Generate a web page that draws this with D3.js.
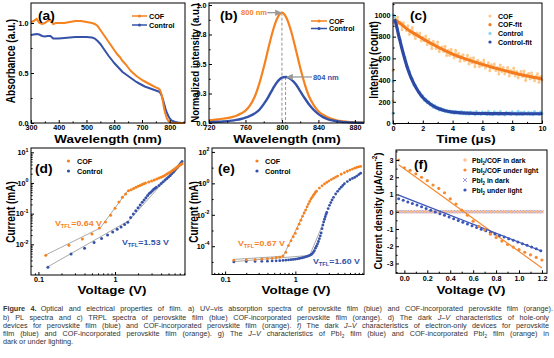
<!DOCTYPE html>
<html><head><meta charset="utf-8">
<script src="https://cdn.jsdelivr.net/npm/d3@7/dist/d3.min.js"></script>
<style>html,body{margin:0;padding:0;background:#fff;}svg{display:block;}</style>
</head><body>
<svg id="fig" width="554" height="358" xmlns="http://www.w3.org/2000/svg"></svg>
<script>
// ---------------- DATA ----------------
// (a) UV-vis absorption
const aWave = [300,310,320,330,340,350,360,370,380,390,400,420,440,460,480,500,520,530,540,550,560,570,580,590,600,610,620,630,640,650,660,670,680,690,700,710,720,730,740,750,760,765,770,775,780,785,790,795,800,805,810,820,830,840,850,855];
const aCof = [1.01,1.02,1.04,1.0,0.99,1.0,1.02,1.03,0.99,1.0,1.0,1.0,1.01,1.02,1.02,1.01,1.0,0.99,0.97,0.93,0.89,0.85,0.81,0.77,0.73,0.69,0.66,0.62,0.59,0.555,0.52,0.495,0.47,0.45,0.43,0.415,0.40,0.385,0.37,0.357,0.345,0.33,0.29,0.22,0.14,0.085,0.045,0.022,0.01,0.005,0.003,0.001,0,0,0,0];
const aCtrl = [0.88,0.885,0.89,0.885,0.87,0.865,0.87,0.87,0.845,0.845,0.845,0.85,0.855,0.86,0.86,0.86,0.855,0.845,0.82,0.79,0.75,0.71,0.67,0.635,0.60,0.57,0.54,0.51,0.49,0.47,0.45,0.43,0.41,0.395,0.38,0.365,0.355,0.345,0.335,0.325,0.315,0.305,0.28,0.24,0.19,0.14,0.10,0.07,0.045,0.03,0.02,0.01,0.004,0.002,0.001,0.001];
const aXTicks = [300,400,500,600,700,800];
const aYTicks = [0,0.5,1.0];
const aYLabels = ["0.0","0.5","1.0"];

// (b) PL spectra
const bWave = [720,725,730,735,740,745,750,755,760,765,770,775,780,785,790,795,800,805,810,815,820,825,830,835,840,845,850,855,860,865,870,875,880,885,890];
const bCof = [0.024,0.027,0.031,0.036,0.042,0.05,0.062,0.08,0.105,0.15,0.22,0.33,0.47,0.63,0.78,0.89,0.935,0.89,0.78,0.63,0.47,0.33,0.22,0.15,0.10,0.07,0.048,0.033,0.023,0.016,0.011,0.008,0.006,0.004,0.003];
const bCtrlWave = [720,725,730,735,740,745,750,755,760,765,770,775,780,785,790,795,800,804,805,810,815,820,825,830,835,840,845,850,855,860,865,870,875,880,885,890];
const bCtrl = [0.006,0.008,0.01,0.013,0.016,0.02,0.026,0.034,0.045,0.06,0.08,0.11,0.16,0.22,0.29,0.35,0.385,0.39,0.39,0.37,0.33,0.27,0.21,0.155,0.11,0.075,0.05,0.033,0.022,0.015,0.01,0.007,0.005,0.003,0.002,0.001];
const bPeaks = [800,804];
const bPeakVals = [0.935,0.39];
const bXTicks = [720,760,800,840,880];
const bYTicks = [0,0.25,0.5,0.75,1.0];
const bYLabels = ["0.0","0.3","0.5","0.8","1.0"];

// (c) TRPL
const cTime = [0.1,0.2,0.3,0.4,0.5,0.6,0.7,0.8,0.9,1.0,1.1,1.2,1.3,1.4,1.5,1.6,1.7,1.8,1.9,2.0,2.1,2.2,2.3,2.4,2.5,2.6,2.7,2.8,2.9,3.0,3.1,3.2,3.3,3.4,3.5,3.6,3.7,3.8,3.9,4.0,4.1,4.2,4.3,4.4,4.5,4.6,4.7,4.8,4.9,5.0,5.1,5.2,5.3,5.4,5.5,5.6,5.7,5.8,5.9,6.0,6.1,6.2,6.3,6.4,6.5,6.6,6.7,6.8,6.9,7.0,7.1,7.2,7.3,7.4,7.5,7.6,7.7,7.8,7.9,8.0,8.1,8.2,8.3,8.4,8.5,8.6,8.7,8.8,8.9,9.0,9.1,9.2,9.3,9.4,9.5,9.6,9.7,9.8,9.9,10.0];
const cCofRaw = [985,920,980,920,934,863,927,892,856,900, 821,858,884,816,782,834,805,832,763,795, 762,805,727,775,737,690,757,730,692,750, 663,697,705,664,712,626,674,628,681,640, 605,675,615,644,574,619,634,578,588,628, 549,600,560,606,522,567,583,524,564,535, 586,512,533,559,485,541,512,548,489,515, 457,538,480,516,458,489,516,437,489,460, 512,439,480,422,454,481,433,484,396,448, 460,412,465,422,394,436,458,381,433,400];
const cCtrlRaw = [985,940,870,790,770,700,650,610,530,515, 480,420,410,355,350,320,290,285,250,255, 215,225,190,200,170,180,150,165,140,150, 125,140,120,130,110,122,105,118,100,112, 95,112,98,108,92,110,90,104,88,102, 85,105,92,100,80,110,88,98,84,106, 90,102,82,112,86,96,80,108,92,99, 84,110,88,95,78,104,92,100,83,108, 90,97,80,112,86,101,82,106,93,88, 104,85,98,80,110,90,96,84,106,92];
const cCofEarlyT = [0,0,0.04];
const cCofEarly = [210,490,930];
const cCtrlEarlyT = [0,0,0.04];
const cCtrlEarly = [95,390,1000];
const cCofFitT = [0.1,0.2,0.5,1,1.5,2,3,4,5,6,7,8,9,10];
const cCofFit = [960,950,920,865,822,780,705,640,588,545,505,470,438,410];
const cCtrlFitT = [0.1,0.2,0.3,0.4,0.5,0.6,0.8,1.0,1.25,1.5,1.75,2,2.5,3,3.5,4,5,6,7,8,9,10];
const cCtrlFit = [960,920,860,800,745,690,590,500,410,340,285,240,180,140,118,105,95,92,91,90,90,90];
const cXTicks = [0,2,4,6,8,10];
const cYTicks = [0,200,400,600,800,1000];

// (d) hole-only J-V
const dCofV = [0.125,0.25,0.375,0.5,0.625,0.75,0.875,1.0,1.125,1.25,1.375,1.5,1.625,1.75,1.875,2.0,2.125,2.25,2.375,2.5,2.75,3.0,3.25,3.5,3.75,4.0,4.25,4.5,4.75,5.0,5.25,5.5,5.75,6.0,6.25,6.5,6.75,7.0,7.25,7.5];
const dCofI = [0.0044,0.0094,0.0148,0.0216,0.034,0.053,0.088,0.15,0.24,0.34,0.44,0.56,0.6,0.66,0.72,0.78,0.83,0.89,0.94,0.99,1.08,1.17,1.26,1.35,1.45,1.55,1.67,1.8,1.95,2.1,2.25,2.45,2.65,2.85,3.05,3.3,3.55,3.8,4.0,4.2];
const dCtrlV = [0.133,0.267,0.4,0.533,0.667,0.8,0.933,1.067,1.2,1.333,1.467,1.6,1.733,1.867,2.0,2.133,2.267,2.4,2.533,2.667,2.8,2.933,3.067,3.2,3.333,3.467,3.75,4.0,4.25,4.5,4.75,5.0,5.25,5.5,5.75,6.0,6.25,6.5,6.75,7.0,7.25,7.5];
const dCtrlI = [0.0018,0.0048,0.0075,0.0114,0.0155,0.02,0.025,0.031,0.037,0.044,0.052,0.075,0.097,0.125,0.155,0.19,0.235,0.28,0.33,0.39,0.45,0.5,0.56,0.62,0.67,0.72,0.83,0.96,1.09,1.24,1.4,1.56,1.75,1.98,2.25,2.55,2.88,3.2,3.6,4.0,4.5,5.0];
const dCofFitV = [0.12,0.64,1.5];
const dCofFitI = [0.0043,0.034,0.6];
const dCtrlFitV = [0.13,1.53,7.5];
const dCtrlFitI = [0.0018,0.06,5.1];
const dXTicks = [0.1,1];
const dXLabels = ["0.1","1"];
const dYTicks = [0.01,0.1,1,10];
const dYExp = ["-2","-1","0","1"];

// (e) electron-only J-V
const eCofV = [0.133,0.2,0.267,0.333,0.4,0.467,0.533,0.6,0.667,0.733,0.8,0.867,0.933,1.0,1.067,1.133,1.2,1.267,1.333,1.4,1.467,1.533,1.6,1.667,1.733,1.8,1.867,1.933,2.0,2.2,2.4,2.6,2.8,3.0,3.25,3.5,3.75,4.0,4.5,5.0,5.5,6.0,6.5,7.0,7.5,8.0,8.5];
const eCofI = [1.3e-5,1.35e-5,1.4e-5,1.5e-5,1.6e-5,1.7e-5,1.85e-5,2.0e-5,2.4e-5,4.0e-5,1.1e-4,2.2e-4,4.0e-4,6.5e-4,1.3e-3,2.5e-3,4.5e-3,8e-3,1.3e-2,2.0e-2,3.2e-2,4.8e-2,7e-2,0.1,0.13,0.17,0.21,0.27,0.32,0.5,0.7,0.92,1.15,1.4,1.75,2.1,2.5,2.9,3.8,4.8,5.9,7.0,8.1,9.2,10.3,11.2,12];
const eCtrlV = [0.133,0.2,0.267,0.333,0.4,0.467,0.533,0.6,0.667,0.733,0.8,0.867,0.933,1.0,1.067,1.133,1.2,1.267,1.333,1.4,1.467,1.533,1.6,1.667,1.733,1.8,1.867,1.933,2.0,2.067,2.133,2.2,2.267,2.333,2.4,2.467,2.533,2.6,2.667,2.733,2.8,2.933,3.067,3.2,3.333,3.5,3.75,4.0,4.25,4.5,4.75,5.0,5.5,6.0,6.5,7.0,7.5,8.0,8.5];
const eCtrlI = [1.0e-5,1.05e-5,1.08e-5,1.1e-5,1.12e-5,1.15e-5,1.18e-5,1.2e-5,1.25e-5,1.3e-5,1.35e-5,1.4e-5,1.45e-5,1.5e-5,1.58e-5,1.65e-5,1.75e-5,1.85e-5,1.95e-5,2.1e-5,2.25e-5,2.4e-5,2.6e-5,2.9e-5,3.3e-5,4e-5,5.2e-5,7.5e-5,1.0e-4,1.4e-4,2.0e-4,3.0e-4,4.6e-4,7e-4,1.3e-3,2.2e-3,3.5e-3,5.2e-3,7.5e-3,1.05e-2,1.4e-2,2.5e-2,4.0e-2,6e-2,8.8e-2,0.13,0.21,0.31,0.43,0.57,0.74,0.95,1.3,1.7,2.05,2.4,2.9,3.6,4.4];
const eCofFitV = [0.133,0.67,1.6];
const eCofFitI = [1.45e-5,2.3e-5,7e-2];
const eCtrlFitV = [0.133,1.6,2.5];
const eCtrlFitI = [1.05e-5,2.6e-5,3e-3];
const eXTicks = [0.1,1];
const eXLabels = ["0.1","1"];
const eYTicks = [1e-4,1e-2,1,100];
const eYExp = ["-4","-2","0","2"];

// (f) PbI2 J-V
const fV = [-0.05,0,0.05,0.1,0.15,0.2,0.25,0.3,0.35,0.4,0.45,0.5,0.55,0.6,0.65,0.7,0.75,0.8,0.85,0.9,0.95,1.0,1.05,1.1,1.15,1.2];
const fVD = [-0.05,-0.025,0,0.025,0.05,0.075,0.1,0.125,0.15,0.175,0.2,0.225,0.25,0.275,0.3,0.325,0.35,0.375,0.4,0.425,0.45,0.475,0.5,0.525,0.55,0.575,0.6,0.625,0.65,0.675,0.7,0.725,0.75,0.775,0.8,0.825,0.85,0.875,0.9,0.925,0.95,0.975,1.0,1.025,1.05,1.075,1.1,1.125,1.15,1.175,1.2];
const fCofDark = [0,0,0,0,0,0,0,0,0,0,0,0,0,0,0,0,0,0,0,0,0,0,0,0,0,0,0,0,0,0,0,0,0,0,0,0,0,0,0,0,0,0,0,0,0,0,0,0,0,0,0];
const fPbDark = [0,0,0,0,0,0,0,0,0,0,0,0,0,0,0,0,0,0,0,0,0,0,0,0,0,0,0,0,0,0,0,0,0,0,0,0,0,0,0,0,0,0,0,0,0,0,0,0,0,0,0];
const fCofLight = [3.0,2.55,2.4,2.2,2.0,1.8,1.55,1.35,1.1,0.75,0.45,0.1,-0.2,-0.55,-0.85,-1.05,-1.3,-1.5,-1.7,-1.9,-2.05,-2.2,-2.35,-2.5,-2.65,-2.8];
const fVB = [-0.05,-0.01,0.03,0.07,0.11,0.15,0.19,0.23,0.27,0.31,0.35,0.39,0.43,0.47,0.51,0.55,0.59,0.63,0.67,0.71,0.75,0.79,0.83,0.87,0.91,0.95,0.99,1.03,1.07,1.11,1.15,1.19];
const fPbLight = [0.75,0.66,0.57,0.48,0.39,0.29,0.19,0.09,-0.01,-0.11,-0.21,-0.31,-0.41,-0.51,-0.61,-0.71,-0.81,-0.91,-1.01,-1.1,-1.2,-1.29,-1.38,-1.47,-1.57,-1.66,-1.76,-1.85,-1.95,-2.05,-2.15,-2.26];
const fCofFitV = [-0.05,1.2];
const fCofFit = [2.72,-3.26];
const fPbFitV = [-0.05,1.2];
const fPbFit = [0.96,-2.29];
const fXTicks = [0,0.2,0.4,0.6,0.8,1.0,1.2];
const fXLabels = ["0.0","0.2","0.4","0.6","0.8","1.0","1.2"];
const fYTicks = [-3,-2,-1,0,1,2,3];

// ---------------- STYLE / HELPERS ----------------
const FONT = "'Liberation Sans', Arial, Helvetica, sans-serif";
const ORANGE = "#F5821F", BLUE = "#3552A8";
const TICKFS = 7.2;
const svg = d3.select("#fig");
const defs = svg.append("defs");
defs.append("marker").attr("id","arr").attr("viewBox","0 0 10 10").attr("refX",9).attr("refY",5)
  .attr("markerWidth",5).attr("markerHeight",5).attr("orient","auto")
  .append("path").attr("d","M0,0 L10,5 L0,10 z").attr("fill","#999");

function rich(t, segs, fs) {
  let shift = 0;
  segs.forEach(s => {
    const sp = t.append("tspan").text(s.t);
    const target = s.sub ? fs*0.3 : (s.sup ? -fs*0.4 : 0);
    if (target !== shift) { sp.attr("dy", target - shift); shift = target; }
    if (s.sub || s.sup) sp.attr("font-size", fs*0.65);
    if (s.b) sp.attr("font-weight","bold");
    if (s.i) sp.attr("font-style","italic");
    if (s.dx) sp.attr("dx", s.dx);
  });
}
function T(parent, x, y, segs, o = {}) {
  const fs = o.fs || 8;
  let tr = `translate(${x},${y})`;
  if (o.sx && o.sx !== 1) tr += ` scale(${o.sx},1)`;
  if (o.rot) tr += ` rotate(${o.rot})`;
  const t = parent.append("text").attr("transform", tr)
    .attr("font-family", o.family || FONT).attr("font-size", fs)
    .attr("font-weight", o.fw || "bold").attr("fill", o.fill || "#000")
    .attr("text-anchor", o.anchor || "start");
  if (typeof segs === "string") segs = [{t: segs}];
  rich(t, segs, fs);
  return t;
}
function zip(X, Y) { return X.map((v,i) => [v, Y[i]]); }

function axes(B, x, y, c) {
  const g = svg.append("g");
  const xa = g.append("g").attr("transform", `translate(0,${B.b})`)
    .call(d3.axisBottom(x).tickValues(c.xt).tickFormat((d,i) => c.xl ? c.xl[i] : String(d)).tickSize(-3).tickPadding(2.2));
  xa.select(".domain").remove();
  xa.attr("font-size", TICKFS).attr("font-family", FONT).attr("font-weight", "bold");
  if (c.xm) { const m = g.append("g").attr("transform", `translate(0,${B.b})`).call(d3.axisBottom(x).tickValues(c.xm).tickFormat("").tickSize(-1.6)); m.select(".domain").remove(); }
  const ya = g.append("g").attr("transform", `translate(${B.l},0)`)
    .call(d3.axisLeft(y).tickValues(c.yt).tickFormat((d,i) => c.yl ? c.yl[i] : String(d)).tickSize(-3).tickPadding(2.5));
  ya.select(".domain").remove();
  ya.attr("font-size", TICKFS).attr("font-family", FONT).attr("font-weight", "bold");
  if (c.yexp) {
    ya.selectAll(".tick text").each(function(d, i) {
      const t = d3.select(this); t.text(null);
      t.append("tspan").text("10");
      t.append("tspan").attr("dy", -3.6).attr("font-size", 5.3).text(c.yexp[i]);
    });
  }
  if (c.ym) { const m = g.append("g").attr("transform", `translate(${B.l},0)`).call(d3.axisLeft(y).tickValues(c.ym).tickFormat("").tickSize(-1.6)); m.select(".domain").remove(); }
  g.append("rect").attr("x", B.l).attr("y", B.t).attr("width", B.r - B.l).attr("height", B.b - B.t)
    .attr("fill", "none").attr("stroke", "#000").attr("stroke-width", 1);
  return g;
}
function logMinor(lo, hi, from, to) {
  const out = [];
  for (let e = from; e <= to; e++) for (let k = 2; k <= 9; k++) { const v = k * Math.pow(10, e); if (v > lo && v < hi) out.push(v); }
  return out;
}
const XT = {fs:11, sx:1.22, anchor:"middle"};
const TOPX = 142.5, BOTX = 294;

// ---------------- PANEL (a) ----------------
{
  const B = {l:31, r:185, t:3, b:123};
  const x = d3.scaleLinear().domain([300,855]).range([B.l,B.r]);
  const y = d3.scaleLinear().domain([0,1.2]).range([B.b,B.t]);
  const g = svg.append("g");
  const ln = d3.line().x(d => x(d[0])).y(d => y(d[1]));
  g.append("path").attr("d", ln(zip(aWave,aCtrl))).attr("fill","none").attr("stroke",BLUE).attr("stroke-width",2);
  g.append("path").attr("d", ln(zip(aWave,aCof))).attr("fill","none").attr("stroke",ORANGE).attr("stroke-width",2);
  axes(B, x, y, {xt:aXTicks, yt:aYTicks, yl:aYLabels, xm:[350,450,550,650,750,850], ym:[0.25,0.75]});
  [["COF",ORANGE,16],["Control",BLUE,25]].forEach(([n,c,yy]) => {
    g.append("line").attr("x1",132).attr("x2",147).attr("y1",yy).attr("y2",yy).attr("stroke",c).attr("stroke-width",1.5);
    g.append("circle").attr("cx",139.5).attr("cy",yy).attr("r",1.6).attr("fill",c);
    T(g, 149, yy+2.6, n, {fs:7.2});
  });
  T(svg, 38, 20, "(a)", {fs:12, sx:1.15});
  T(svg, 108, TOPX, "Wavelength (nm)", XT);
  T(svg, 15, 61, "Absorbance (a.u.)", {fs:10, sx:1.2, rot:-90, anchor:"middle"});
}

// ---------------- PANEL (b) ----------------
{
  const B = {l:209, r:364, t:3, b:123};
  const x = d3.scaleLinear().domain([720,890]).range([B.l,B.r]);
  const y = d3.scaleLinear().domain([0,1.017]).range([B.b,B.t]);
  const g = svg.append("g");
  const ln = d3.line().x(d => x(d[0])).y(d => y(d[1])).curve(d3.curveMonotoneX);
  bPeaks.forEach((p,i) => g.append("line").attr("x1",x(p)).attr("x2",x(p)).attr("y1",y(bPeakVals[i])).attr("y2",y(0))
    .attr("stroke","#777").attr("stroke-width",0.8).attr("stroke-dasharray","3,2"));
  g.append("path").attr("d", ln(zip(bWave,bCof))).attr("fill","none").attr("stroke",ORANGE).attr("stroke-width",2.2);
  g.append("path").attr("d", ln(zip(bCtrlWave,bCtrl))).attr("fill","none").attr("stroke",BLUE).attr("stroke-width",2.4);
  axes(B, x, y, {xt:bXTicks, yt:bYTicks, yl:bYLabels, xm:[740,780,820,860], ym:[0.125,0.375,0.625,0.875]});
  g.append("line").attr("x1",x(784)).attr("x2",x(799)).attr("y1",y(bPeakVals[0])).attr("y2",y(bPeakVals[0])).attr("stroke","#999").attr("stroke-width",1.3).attr("marker-end","url(#arr)");
  g.append("line").attr("x1",x(833)).attr("x2",x(805.5)).attr("y1",y(bPeakVals[1])).attr("y2",y(bPeakVals[1])).attr("stroke","#999").attr("stroke-width",1.3).attr("marker-end","url(#arr)");
  T(g, x(783.5), y(bPeakVals[0])+2.6, "800 nm", {fs:7.5, fill:ORANGE, anchor:"end"});
  T(g, x(834), y(bPeakVals[1])+2.6, "804 nm", {fs:7.5, fill:BLUE});
  [["COF",ORANGE,21],["Control",BLUE,28.5]].forEach(([n,c,yy]) => {
    g.append("line").attr("x1",311).attr("x2",327).attr("y1",yy).attr("y2",yy).attr("stroke",c).attr("stroke-width",1.5);
    g.append("circle").attr("cx",319).attr("cy",yy).attr("r",1.6).attr("fill",c);
    T(g, 329, yy+2.6, n, {fs:7.2});
  });
  T(svg, 220, 20, "(b)", {fs:12, sx:1.15});
  T(svg, 287, TOPX, "Wavelength (nm)", XT);
  T(svg, 199, 63, "Normalized intensity (a.u.)", {fs:9.6, sx:1.2, rot:-90, anchor:"middle"});
}

// ---------------- PANEL (c) ----------------
{
  const B = {l:393, r:542, t:3, b:123.5};
  const x = d3.scaleLinear().domain([0,10]).range([B.l,B.r]);
  const y = d3.scaleLinear().domain([0,1110]).range([B.b,B.t]);
  const g = svg.append("g");
  const ln = d3.line().x(d => x(d[0])).y(d => y(d[1]));
  const lc = d3.line().x(d => x(d[0])).y(d => y(d[1])).curve(d3.curveMonotoneX);
  const LO = "#FDC98C", LB = "#8AD6F6";
  g.append("path").attr("d", ln(zip(cTime,cCofRaw))).attr("fill","none").attr("stroke",LO).attr("stroke-width",1.2);
  g.selectAll(null).data(zip(cTime,cCofRaw).concat(zip(cCofEarlyT,cCofEarly))).join("circle").attr("cx",d=>x(d[0])).attr("cy",d=>y(d[1])).attr("r",1.5).attr("fill",LO);
  g.append("path").attr("d", ln(zip(cTime,cCtrlRaw))).attr("fill","none").attr("stroke",LB).attr("stroke-width",1.2);
  g.selectAll(null).data(zip(cTime,cCtrlRaw).concat(zip(cCtrlEarlyT,cCtrlEarly))).join("circle").attr("cx",d=>x(d[0])).attr("cy",d=>y(d[1])).attr("r",1.5).attr("fill",LB);
  g.append("path").attr("d", lc(zip(cCofFitT,cCofFit))).attr("fill","none").attr("stroke","#F47A20").attr("stroke-width",3);
  g.append("path").attr("d", lc(zip(cCtrlFitT,cCtrlFit))).attr("fill","none").attr("stroke","#2E48A6").attr("stroke-width",3.2);
  axes(B, x, y, {xt:cXTicks, yt:cYTicks, xm:[1,3,5,7,9], ym:[100,300,500,700,900,1100]});
  [["COF",LO,16],["COF-fit","#F47A20",24.7],["Control",LB,33.4],["Control-fit","#2E48A6",42]].forEach(([n,c,yy]) => {
    g.append("circle").attr("cx",490).attr("cy",yy).attr("r",1.6).attr("fill",c);
    T(g, 498, yy+2.5, n, {fs:7});
  });
  T(svg, 410, 20, "(c)", {fs:12, sx:1.15});
  T(svg, 466, TOPX, "Time (μs)", XT);
  T(svg, 378, 60, "Intensity (count)", {fs:10, sx:1.2, rot:-90, anchor:"middle"});
}

// ---------------- PANEL (d) ----------------
{
  const B = {l:31, r:185, t:148, b:275};
  const x = d3.scaleLog().domain([0.08,8.2]).range([B.l,B.r]);
  const y = d3.scaleLog().domain([1e-3,13.8]).range([B.b,B.t]);
  const g = svg.append("g");
  const ln = d3.line().x(d => x(d[0])).y(d => y(d[1]));
  g.append("path").attr("d", ln(zip(dCofFitV,dCofFitI))).attr("fill","none").attr("stroke","#aaa").attr("stroke-width",1);
  g.append("path").attr("d", ln(zip(dCtrlFitV,dCtrlFitI))).attr("fill","none").attr("stroke","#aaa").attr("stroke-width",1);
  g.selectAll(null).data(zip(dCtrlV,dCtrlI)).join("circle").attr("cx",d=>x(d[0])).attr("cy",d=>y(d[1])).attr("r",1.5).attr("fill",BLUE);
  g.selectAll(null).data(zip(dCofV,dCofI)).join("circle").attr("cx",d=>x(d[0])).attr("cy",d=>y(d[1])).attr("r",1.5).attr("fill",ORANGE);
  axes(B, x, y, {xt:dXTicks, xl:dXLabels, yt:dYTicks, yexp:dYExp, xm:logMinor(0.08,8.2,-2,0), ym:logMinor(1e-3,13.8,-3,0)});
  [["COF",ORANGE,161],["Control",BLUE,171]].forEach(([n,c,yy]) => {
    g.append("circle").attr("cx",68.5).attr("cy",yy).attr("r",1.6).attr("fill",c);
    T(g, 77, yy+2.6, n, {fs:7.2});
  });
  T(g, 55, 226, [{t:"V"},{t:"TFL",sub:true},{t:"=0.64 V"}], {fs:8, sx:1.1, fill:ORANGE});
  T(g, 122, 245, [{t:"V"},{t:"TFL",sub:true},{t:"=1.53 V"}], {fs:8, sx:1.1, fill:BLUE});
  T(svg, 35, 173, "(d)", {fs:12, sx:1.15});
  T(svg, 112, BOTX, "Voltage (V)", XT);
  T(svg, 15, 212, "Current (mA)", {fs:10, sx:1.2, rot:-90, anchor:"middle"});
}

// ---------------- PANEL (e) ----------------
{
  const B = {l:212, r:364, t:148, b:274.5};
  const x = d3.scaleLog().domain([0.065,9.5]).range([B.l,B.r]);
  const y = d3.scaleLog().domain([Math.pow(10,-5.8),Math.pow(10,2.25)]).range([B.b,B.t]);
  const g = svg.append("g");
  const ln = d3.line().x(d => x(d[0])).y(d => y(d[1]));
  g.append("path").attr("d", ln(zip(eCofFitV,eCofFitI))).attr("fill","none").attr("stroke","#aaa").attr("stroke-width",1);
  g.append("path").attr("d", ln(zip(eCtrlFitV,eCtrlFitI))).attr("fill","none").attr("stroke","#aaa").attr("stroke-width",1);
  g.selectAll(null).data(zip(eCtrlV,eCtrlI)).join("circle").attr("cx",d=>x(d[0])).attr("cy",d=>y(d[1])).attr("r",1.4).attr("fill",BLUE);
  g.selectAll(null).data(zip(eCofV,eCofI)).join("circle").attr("cx",d=>x(d[0])).attr("cy",d=>y(d[1])).attr("r",1.4).attr("fill",ORANGE);
  axes(B, x, y, {xt:eXTicks, xl:eXLabels, yt:eYTicks, yexp:eYExp, xm:logMinor(0.065,9.5,-2,0), ym:[1e-5,1e-3,1e-1,10]});
  [["COF",ORANGE,161],["Control",BLUE,171]].forEach(([n,c,yy]) => {
    g.append("circle").attr("cx",257).attr("cy",yy).attr("r",1.6).attr("fill",c);
    T(g, 265, yy+2.6, n, {fs:7.2});
  });
  T(g, 238, 246, [{t:"V"},{t:"TFL",sub:true},{t:"=0.67 V"}], {fs:8, sx:1.1, fill:ORANGE});
  T(g, 313, 264, [{t:"V"},{t:"TFL",sub:true},{t:"=1.60 V"}], {fs:8, sx:1.1, fill:BLUE});
  T(svg, 218, 173, "(e)", {fs:12, sx:1.15});
  T(svg, 296, BOTX, "Voltage (V)", XT);
  T(svg, 198, 212, "Current (mA)", {fs:10, sx:1.2, rot:-90, anchor:"middle"});
}

// ---------------- PANEL (f) ----------------
{
  const B = {l:396, r:547, t:150, b:273.3};
  const x = d3.scaleLinear().domain([-0.073,1.244]).range([B.l,B.r]);
  const y = d3.scaleLinear().domain([-3.57,3.58]).range([B.b,B.t]);
  const g = svg.append("g");
  const ln = d3.line().x(d => x(d[0])).y(d => y(d[1]));
  const LO = "#FBB27A", LV = "#9C9CDA", FO = "#F58A32", FB = "#3B56B8";
  zip(fVD,fPbDark).forEach(d => {
    const cx = x(d[0]), cy = y(d[1]);
    g.append("path").attr("d",`M${cx-1.6},${cy-1.6}L${cx+1.6},${cy+1.6}M${cx-1.6},${cy+1.6}L${cx+1.6},${cy-1.6}`).attr("stroke",LV).attr("stroke-width",0.9);
  });
  zip(fVD,fCofDark).forEach(d => {
    const cx = x(d[0]), cy = y(d[1]);
    g.append("path").attr("d",`M${cx-1.8},${cy}L${cx+1.8},${cy}M${cx},${cy-1.8}L${cx},${cy+1.8}`).attr("stroke",LO).attr("stroke-width",0.8);
  });
  g.append("path").attr("d", ln(zip(fCofFitV,fCofFit))).attr("stroke",FO).attr("stroke-width",1.2);
  g.append("path").attr("d", ln(zip(fPbFitV,fPbFit))).attr("stroke",FB).attr("stroke-width",1.2);
  g.selectAll(null).data(zip(fVB,fPbLight)).join("circle").attr("cx",d=>x(d[0])).attr("cy",d=>y(d[1])).attr("r",1.5).attr("fill",FB);
  g.selectAll(null).data(zip(fV,fCofLight)).join("circle").attr("cx",d=>x(d[0])).attr("cy",d=>y(d[1])).attr("r",1.6).attr("fill",FO);
  axes(B, x, y, {xt:fXTicks, xl:fXLabels, yt:fYTicks, xm:[0.1,0.3,0.5,0.7,0.9,1.1], ym:[-3.5,-2.5,-1.5,-0.5,0.5,1.5,2.5,3.5]});
  const leg = [
    {segs:[{t:"PbI"},{t:"2",sub:true},{t:"/COF in dark"}], y:160, m:"plus", c:LO},
    {segs:[{t:"PbI"},{t:"2",sub:true},{t:"/COF under light"}], y:170, m:"dot", c:FO},
    {segs:[{t:"PbI"},{t:"2",sub:true},{t:" in dark"}], y:180, m:"x", c:LV},
    {segs:[{t:"PbI"},{t:"2",sub:true},{t:" under light"}], y:190, m:"dot", c:FB}
  ];
  leg.forEach(L => {
    const cx = 465, cy = L.y;
    if (L.m === "dot") g.append("circle").attr("cx",cx).attr("cy",cy).attr("r",1.6).attr("fill",L.c);
    else if (L.m === "plus") g.append("path").attr("d",`M${cx-2},${cy}L${cx+2},${cy}M${cx},${cy-2}L${cx},${cy+2}`).attr("stroke",L.c).attr("stroke-width",1);
    else g.append("path").attr("d",`M${cx-2},${cy-2}L${cx+2},${cy+2}M${cx-2},${cy+2}L${cx+2},${cy-2}`).attr("stroke",L.c).attr("stroke-width",1);
    T(g, 472, cy+2.5, L.segs, {fs:6.8});
  });
  T(svg, 414, 169, "(f)", {fs:12, sx:1.15});
  T(svg, 471, BOTX, "Voltage (V)", XT);
  T(svg, 382, 211, [{t:"Current density (μA/cm"},{t:"-2",sup:true},{t:")"}], {fs:9.8, sx:1.2, rot:-90, anchor:"middle"});
}

// ---------------- CAPTION ----------------
const capLines = [
  [{t:"Figure 4.", b:true},{t:"Optical and electrical properties of film. a) UV–vis absorption spectra of perovskite film (blue) and COF-incorporated perovskite film (orange).", dx:4}],
  [{t:"b) PL spectra and c) TRPL spectra of perovskite film (blue) COF-incorporated perovskite film (orange). d) The dark "},{t:"J–V",i:true},{t:" characteristics of hole-only"}],
  [{t:"devices for perovskite film (blue) and COF-incorporated perovskite film (orange). "},{t:"f)",i:true},{t:" The dark "},{t:"J–V",i:true},{t:" characteristics of electron-only devices for perovskite"}],
  [{t:"film (blue) and COF-incorporated perovskite film (orange). g) The "},{t:"J–V",i:true},{t:" characteristics of PbI"},{t:"2",sub:true},{t:" film (blue) and COF-incorporated PbI"},{t:"2",sub:true},{t:" film (orange) in"}],
  [{t:"dark or under lighting."}]
];
const capY = [311.3, 319.5, 327.7, 335.9, 344.1];
const CAPFONT = "'Liberation Sans', Arial, sans-serif";
function drawCaption(fs, justify) {
  const nodes = [];
  capLines.forEach((segs, i) => {
    const t = svg.append("text").attr("class","cap").attr("x", 3).attr("y", capY[i]).attr("font-family", CAPFONT)
      .attr("font-size", fs).attr("fill", "#333");
    rich(t, segs, fs);
    nodes.push(t);
  });
  if (justify) nodes.forEach((t, i) => {
    if (i < 4) {
      const len = t.node().getComputedTextLength();
      const spaces = capLines[i].map(s => s.t).join("").split(" ").length - 1;
      t.attr("word-spacing", (546 - len) / spaces);
    }
  });
  return nodes;
}
let probe = drawCaption(7.2, false);
let maxLen = d3.max(probe.slice(0,4), t => t.node().getComputedTextLength());
probe.forEach(t => t.remove());
const capFs = Math.min(7.25, 7.2 * 540 / maxLen);
drawCaption(capFs, true);
</script></body></html>
